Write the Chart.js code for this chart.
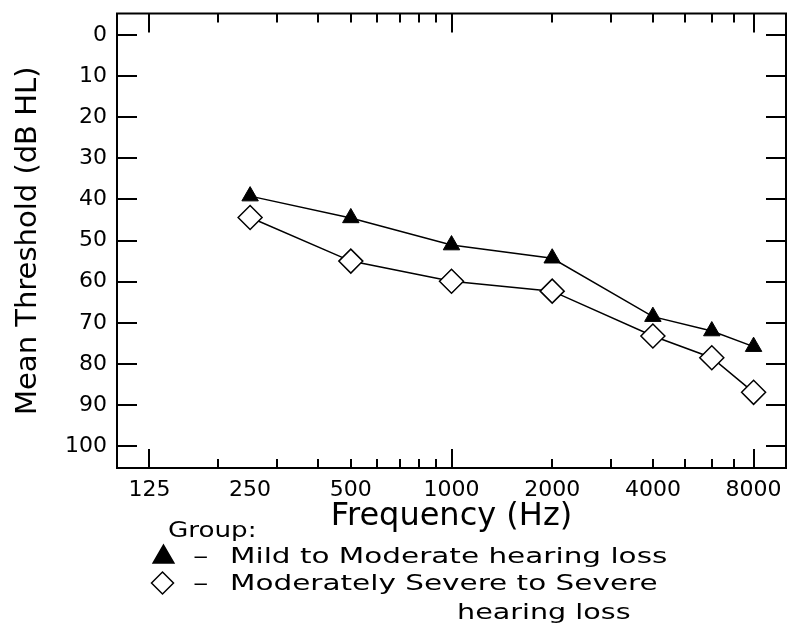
<!DOCTYPE html>
<html>
<head>
<meta charset="utf-8">
<script src="https://cdn.jsdelivr.net/npm/chart.js@4/dist/chart.umd.min.js"></script>
<style>
  html, body { margin: 0; padding: 0; background: #fff; }
  #wrap { width: 788px; height: 624px; position: relative; }
</style>
</head>
<body>
<div id="wrap"><canvas id="c" width="788" height="624"></canvas></div>
<script>
// ---- data ----
const frequencies = [250, 500, 1000, 2000, 4000, 6000, 8000];
const mildModerate = [39.2, 44.5, 51.1, 54.3, 68.5, 72.0, 75.8];
const modSevereSevere = [44.4, 55.0, 59.9, 62.3, 73.2, 78.5, 86.9];
const seriesNames = ['Mild to Moderate hearing loss', 'Moderately Severe to Severe hearing loss'];

// ---- tick labels / positions ----
const xTickLabels = [125, 250, 500, 1000, 2000, 4000, 8000];
const xMinorTicks = [200, 300, 400, 500, 600, 700, 800, 900, 2000, 3000, 4000, 5000, 6000, 7000];
const xMajorTicks = [125, 1000, 8000];
const yTickValues = [0, 10, 20, 30, 40, 50, 60, 70, 80, 90, 100];
const xTitle = 'Frequency (Hz)';
const yTitle = 'Mean Threshold (dB HL)';
const legendTitle = 'Group:';
const legendLines = [['Mild to Moderate hearing loss'], ['Moderately Severe to Severe', 'hearing loss']];

const toPoints = (vals) => frequencies.map((f, i) => ({ x: f, y: vals[i] }));

const frameTicks = {
  id: 'frameTicks',
  beforeDatasetsDraw(chart) {
    const { ctx, chartArea: a, scales: { x, y } } = chart;
    ctx.save();
    ctx.strokeStyle = '#000';
    ctx.lineWidth = 2;
    ctx.strokeRect(a.left, a.top, a.right - a.left, a.bottom - a.top);
    ctx.beginPath();
    const tickX = (v, len) => {
      const px = Math.round(x.getPixelForValue(v));
      ctx.moveTo(px, a.bottom); ctx.lineTo(px, a.bottom - len);
      ctx.moveTo(px, a.top); ctx.lineTo(px, a.top + len);
    };
    xMinorTicks.forEach(v => tickX(v, 9));
    xMajorTicks.forEach(v => tickX(v, 19));
    yTickValues.forEach(v => {
      const py = Math.round(y.getPixelForValue(v));
      ctx.moveTo(a.left, py); ctx.lineTo(a.left + 20, py);
      ctx.moveTo(a.right, py); ctx.lineTo(a.right - 20, py);
    });
    ctx.stroke();
    ctx.restore();
  }
};

// draw horizontally stretched text (wide glyphs like the original plotter font)
function wideText(ctx, text, x, y, sx) {
  ctx.save();
  ctx.translate(x, y);
  ctx.scale(sx, 1);
  ctx.fillText(text, 0, 0);
  ctx.restore();
}

const groupLegend = {
  id: 'groupLegend',
  afterDraw(chart) {
    const ctx = chart.ctx;
    const ds = chart.data.datasets;
    ctx.save();
    ctx.fillStyle = '#000';
    ctx.textBaseline = 'alphabetic';
    ctx.textAlign = 'left';
    ctx.font = '22px "DejaVu Sans"';
    wideText(ctx, legendTitle, 168, 537, 1.19);
    const rows = [
      { mx: 163.5, my: 557, base: 563, r: 12, d: ds[0] },
      { mx: 162.5, my: 583, base: 590, r: 11, d: ds[1] }
    ];
    rows.forEach((row, i) => {
      ctx.save();
      ctx.fillStyle = row.d.pointBackgroundColor;
      ctx.strokeStyle = row.d.pointBorderColor;
      ctx.lineWidth = 1.5;
      Chart.helpers.drawPoint(ctx, { pointStyle: row.d.pointStyle, radius: row.r, borderWidth: 1.5, rotation: 0 }, row.mx, row.my);
      ctx.restore();
      wideText(ctx, '\u2013', 193, row.base, 1.4);
      wideText(ctx, legendLines[i][0], 230, row.base, 1.34);
    });
    wideText(ctx, legendLines[1][1], 457, 619, 1.3);
    ctx.restore();
  }
};

new Chart(document.getElementById('c'), {
  type: 'line',
  data: {
    datasets: [
      {
        label: seriesNames[0],
        data: toPoints(mildModerate),
        borderColor: '#000',
        borderWidth: 1.5,
        pointStyle: 'triangle',
        pointRadius: 9.5,
        pointBackgroundColor: '#000',
        pointBorderColor: '#000',
        pointBorderWidth: 1,
        tension: 0,
        fill: false
      },
      {
        label: seriesNames[1],
        data: toPoints(modSevereSevere),
        borderColor: '#000',
        borderWidth: 1.5,
        pointStyle: 'rectRot',
        pointRadius: 12,
        pointBackgroundColor: '#fff',
        pointBorderColor: '#000',
        pointBorderWidth: 1.5,
        tension: 0,
        fill: false
      }
    ]
  },
  options: {
    responsive: false,
    animation: false,
    devicePixelRatio: 1,
    layout: { autoPadding: false, padding: { left: 0, right: 2, top: 13.5, bottom: 88 } },
    plugins: { legend: { display: false }, tooltip: { enabled: false } },
    scales: {
      x: {
        type: 'logarithmic',
        min: 100,
        max: 10000,
        grid: { display: false, drawTicks: false },
        border: { display: false },
        afterBuildTicks: (s) => { s.ticks = xTickLabels.map(v => ({ value: v })); },
        afterFit: (s) => { s.height = 68; s.paddingLeft = 0; s.paddingRight = 0; },
        ticks: {
          autoSkip: false,
          maxRotation: 0,
          padding: 9,
          color: '#000',
          font: { family: '"DejaVu Sans"', size: 22 },
          callback: (v) => String(v)
        },
        title: {
          display: true,
          text: xTitle,
          color: '#000',
          font: { family: '"DejaVu Sans"', size: 32 },
          padding: { top: 0, bottom: 0 }
        }
      },
      y: {
        type: 'linear',
        reverse: true,
        min: -5.2,
        max: 105.3,
        grid: { display: false, drawTicks: false },
        border: { display: false },
        afterBuildTicks: (s) => { s.ticks = yTickValues.map(v => ({ value: v })); },
        afterFit: (s) => { s.width = 117; s.paddingTop = 0; s.paddingBottom = 0; },
        ticks: {
          autoSkip: false,
          padding: 10,
          color: '#000',
          font: { family: '"DejaVu Sans"', size: 22 },
          callback: (v) => String(v)
        },
        title: {
          display: true,
          text: yTitle,
          color: '#000',
          font: { family: '"DejaVu Sans"', size: 29 },
          padding: { top: 11, bottom: 0 }
        }
      }
    }
  },
  plugins: [frameTicks, groupLegend]
});
</script>
</body>
</html>
